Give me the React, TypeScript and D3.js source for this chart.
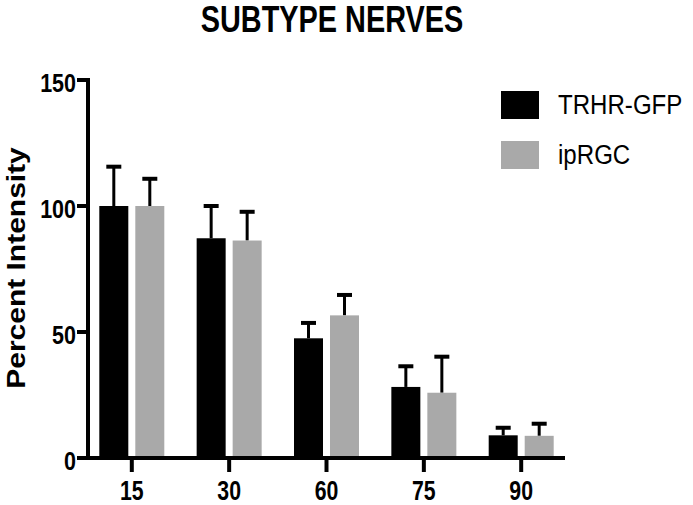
import React from 'react';
import * as d3 from 'd3';

// data
const categories = ['15', '30', '60', '75', '90'];
const seriesNames = ['TRHR-GFP', 'ipRGC'];
const seriesColors = ['#000000', '#a9a9a9'];
const trhrValues = [100, 87.2, 47.5, 28.2, 9];
const trhrErrors = [15.6, 12.8, 6.1, 8.2, 3];
const iprgcValues = [100, 86.3, 56.6, 25.9, 8.8];
const iprgcErrors = [10.8, 11.4, 8.1, 14.3, 4.8];
const yTicks = [0, 50, 100, 150];

const series = [
  { name: seriesNames[0], color: seriesColors[0], values: trhrValues, errors: trhrErrors },
  { name: seriesNames[1], color: seriesColors[1], values: iprgcValues, errors: iprgcErrors },
];

const W = 693;
const H = 505;
const font = '"Liberation Sans", Arial, sans-serif';

const App = () => {
  // axis frame
  const left = 88;
  const right = 565;
  const top = 80;
  const bottom = 458;

  const x = d3.scalePoint<string>().domain(categories).range([left, right]).padding(0.45);
  const y = d3.scaleLinear().domain([0, 150]).range([bottom, top]);

  const barW = 29;
  const barGap = 7;
  const groupW = barW * 2 + barGap;
  const capW = 15;

  return (
    <svg width={W} height={H} style={{ position: 'absolute', left: 0, top: 0, background: '#fff' }}>
      {/* title */}
      <text transform={`translate(332,32) scale(0.78,1)`} textAnchor="middle"
        fontFamily={font} fontWeight="bold" fontSize={37} fill="#000">SUBTYPE NERVES</text>

      {/* y label */}
      <text transform={`translate(25,268) rotate(-90) scale(1,0.83)`} textAnchor="middle"
        fontFamily={font} fontWeight="bold" fontSize={30} fill="#000">Percent Intensity</text>

      {/* bars + error bars */}
      {series.map((s, si) => (
        <g key={s.name}>
          {categories.map((c, i) => {
            const bx = (x(c) as number) - groupW / 2 + si * (barW + barGap);
            const cx = bx + barW / 2;
            const v = s.values[i];
            const e = s.errors[i];
            return (
              <g key={c}>
                <line x1={cx} x2={cx} y1={y(v)} y2={y(v + e)} stroke="#000" strokeWidth={3} />
                <line x1={cx - capW / 2} x2={cx + capW / 2} y1={y(v + e)} y2={y(v + e)} stroke="#000" strokeWidth={4} />
                <rect x={bx} y={y(v)} width={barW} height={bottom - y(v)} fill={s.color} />
              </g>
            );
          })}
        </g>
      ))}

      {/* y axis */}
      <line x1={left} x2={left} y1={top - 2} y2={bottom + 2} stroke="#000" strokeWidth={4} />
      {yTicks.map(t => (
        <g key={t}>
          <line x1={left - 11} x2={left} y1={y(t)} y2={y(t)} stroke="#000" strokeWidth={4} />
          <text transform={`translate(${left - 12},${y(t) + 12}) scale(0.86,1)`} textAnchor="end"
            fontFamily={font} fontWeight="bold" fontSize={25} fill="#000">{t}</text>
        </g>
      ))}

      {/* x axis */}
      <line x1={left - 2} x2={right} y1={bottom} y2={bottom} stroke="#000" strokeWidth={4} />
      {categories.map(c => (
        <g key={c}>
          <line x1={x(c)} x2={x(c)} y1={bottom} y2={bottom + 14} stroke="#000" strokeWidth={4} />
          <text transform={`translate(${x(c)},500) scale(0.76,1)`} textAnchor="middle"
            fontFamily={font} fontWeight="bold" fontSize={28} fill="#000">{c}</text>
        </g>
      ))}

      {/* legend */}
      {series.map((s, si) => (
        <g key={s.name} transform={`translate(501,${91 + si * 50})`}>
          <rect x={0} y={0} width={38} height={28} fill={s.color} />
          <text transform={`translate(57,23) scale(0.86,1)`} fontFamily={font} fontSize={28} fill="#000">{s.name}</text>
        </g>
      ))}
    </svg>
  );
};

export default App;
